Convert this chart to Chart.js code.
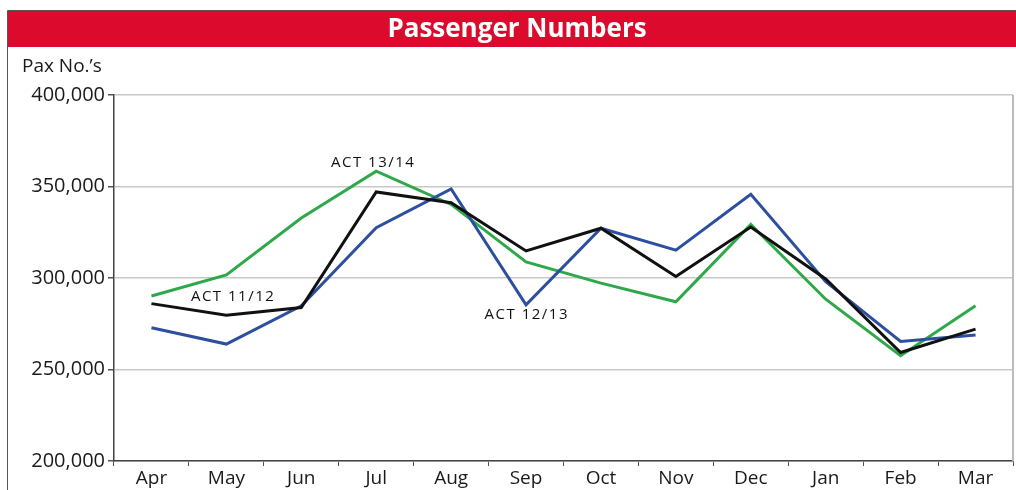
<!DOCTYPE html>
<html>
<head>
<meta charset="utf-8">
<script src="https://cdn.jsdelivr.net/npm/chart.js@4"></script>
<style>
  html, body { margin: 0; padding: 0; background: #fff; }
  #wrap { width: 1016px; height: 490px; position: relative; }
</style>
</head>
<body>
<div id="wrap"><canvas id="chart" width="1016" height="490"></canvas></div>
<script>
// months of the financial year
const months = ["Apr", "May", "Jun", "Jul", "Aug", "Sep", "Oct", "Nov", "Dec", "Jan", "Feb", "Mar"];

// passenger numbers per year
const act1112 = [286000, 279700, 283900, 347000, 341100, 314800, 327200, 300800, 327900, 299500, 259300, 272100];
const act1213 = [272800, 263900, 284800, 327500, 348700, 285300, 327200, 315200, 345700, 298000, 265300, 268800];
const act1314 = [290200, 301700, 332800, 358400, 340200, 308800, 297200, 287000, 329300, 288400, 257500, 284800];

const seriesNames = ["ACT 11/12", "ACT 12/13", "ACT 13/14"];
// where each series name sits (category index, value)
const labelSpots = [[1.09, 289700], [5.01, 280000], [2.96, 362800]];

const yTicks = [200000, 250000, 300000, 350000, 400000];
const titleText = "Passenger Numbers";
const unitText = "Pax No.\u2019s";

const FONT = "'Open Sans', 'DejaVu Sans', sans-serif";

// red header bar, outer frame, unit label, right border, series names
const decorPlugin = {
  id: "decor",
  beforeDraw(chart) {
    const c = chart.ctx;
    c.save();
    c.fillStyle = "#fff";
    c.fillRect(0, 0, chart.width, chart.height);
    // frame
    c.strokeStyle = "#555";
    c.lineWidth = 1;
    c.beginPath();
    c.moveTo(7.5, chart.height);
    c.lineTo(7.5, 10.5);
    c.lineTo(chart.width, 10.5);
    c.stroke();
    // red bar
    c.fillStyle = "#dc0a2d";
    c.fillRect(8, 11, chart.width - 8, 36);
    c.fillStyle = "#fff";
    c.font = "bold 26px " + FONT;
    c.textAlign = "center";
    c.textBaseline = "middle";
    c.fillText(titleText, 517, 30);
    // unit label
    c.fillStyle = "#1a1a1a";
    c.font = "19px " + FONT;
    c.textAlign = "left";
    c.fillText(unitText, 22, 67);
    c.restore();
  },
  afterDatasetsDraw(chart) {
    const c = chart.ctx;
    const a = chart.chartArea;
    c.save();
    c.strokeStyle = "#bbb";
    c.lineWidth = 2;
    c.beginPath();
    c.moveTo(a.right, a.top);
    c.lineTo(a.right, a.bottom);
    c.stroke();
    const xs = chart.scales.x, ys = chart.scales.y;
    c.fillStyle = "#111";
    c.font = "15px " + FONT;
    c.letterSpacing = "1.5px";
    c.textAlign = "center";
    c.textBaseline = "middle";
    seriesNames.forEach((n, i) => {
      const p = labelSpots[i];
      c.fillText(n, xs.getPixelForValue(p[0]), ys.getPixelForValue(p[1]));
    });
    c.restore();
  }
};

const ctx = document.getElementById("chart").getContext("2d");
const chart = new Chart(ctx, {
  type: "line",
  data: {
    labels: months,
    datasets: [
      { label: seriesNames[0], data: act1112, borderColor: "#111111", borderWidth: 3, pointRadius: 0, tension: 0, fill: false },
      { label: seriesNames[1], data: act1213, borderColor: "#2d4f9f", borderWidth: 3, pointRadius: 0, tension: 0, fill: false },
      { label: seriesNames[2], data: act1314, borderColor: "#2ea84b", borderWidth: 3, pointRadius: 0, tension: 0, fill: false }
    ]
  },
  options: {
    responsive: false,
    animation: false,
    layout: { padding: { left: 0, right: 3, top: 95, bottom: 0 } },
    plugins: {
      legend: { display: false },
      title: { display: false },
      tooltip: { enabled: false }
    },
    scales: {
      x: {
        offset: true,
        grid: { offset: true, drawOnChartArea: false, drawTicks: true, tickLength: 5, color: "#555" },
        border: { color: "#444", width: 1.5 },
        ticks: { color: "#1a1a1a", font: { family: FONT, size: 19 }, padding: 1, maxRotation: 0 },
        afterFit(scale) { scale.height = 29; }
      },
      y: {
        min: 200000,
        max: 400000,
        afterBuildTicks(scale) { scale.ticks = yTicks.map(v => ({ value: v })); },
        grid: { color: "#c8c8c8", lineWidth: 1.5, tickLength: 6, tickColor: "#555" },
        border: { color: "#444", width: 1.5 },
        ticks: {
          color: "#1a1a1a",
          font: { family: FONT, size: 20 },
          padding: 3,
          callback: v => v.toLocaleString("en-US")
        },
        afterFit(scale) { scale.width = 114; }
      }
    }
  },
  plugins: [decorPlugin]
});
</script>
</body>
</html>
